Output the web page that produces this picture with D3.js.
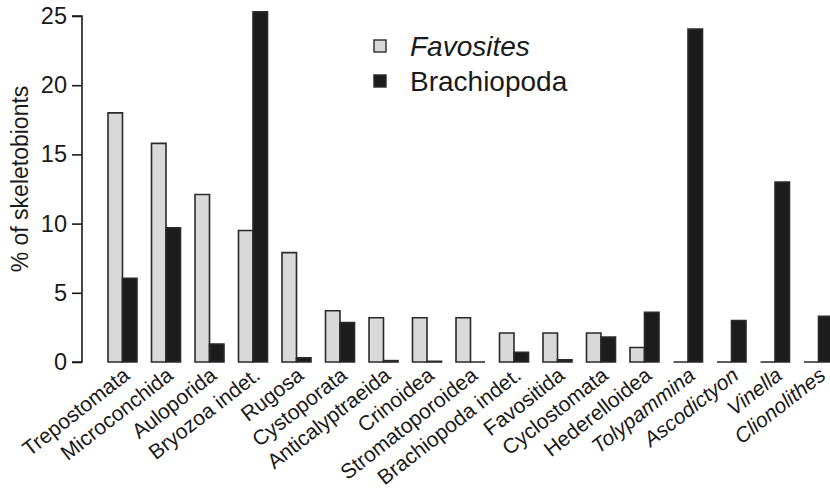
<!DOCTYPE html>
<html>
<head>
<meta charset="utf-8">
<script src="https://cdn.jsdelivr.net/npm/d3@7"></script>
<style>
  html, body { margin: 0; padding: 0; background: #fff; }
  svg { display: block; font-family: "Liberation Sans", Arial, Helvetica, sans-serif; }
</style>
</head>
<body>
<svg id="chart" width="830" height="489"></svg>
<script>
// Skeletobiont taxa on the x axis
const categories = [
  "Trepostomata", "Microconchida", "Auloporida", "Bryozoa indet.", "Rugosa",
  "Cystoporata", "Anticalyptraeida", "Crinoidea", "Stromatoporoidea",
  "Brachiopoda indet.", "Favositida", "Cyclostomata", "Hederelloidea",
  "Tolypammina", "Ascodictyon", "Vinella", "Clionolithes"
];
// Genus names set in italics
const italicCategories = ["Tolypammina", "Ascodictyon", "Vinella", "Clionolithes"];

// Percent of skeletobionts on each host
const favositesValues = [18.0, 15.8, 12.1, 9.5, 7.9, 3.7, 3.2, 3.2, 3.2, 2.1, 2.1, 2.1, 1.05, 0, 0, 0, 0];
const brachiopodaValues = [6.05, 9.7, 1.3, 25.3, 0.3, 2.85, 0.1, 0.05, 0, 0.7, 0.15, 1.8, 3.6, 24.05, 3.0, 13.0, 3.3];

const seriesNames = ["Favosites", "Brachiopoda"];
const seriesFill = ["#d9d9d9", "#1c1c1c"];
const yTicks = [0, 5, 10, 15, 20, 25];

const svg = d3.select("#chart");
const ink = "#1a1a1a";

const y = d3.scaleLinear().domain([0, 25]).range([362, 16]);

// groups of two bars, a one-bar gap before each group
const x = d3.scaleBand()
  .domain(categories)
  .range([108, 108 + 43.5 * (categories.length - 1 / 3)])
  .paddingInner(1 / 3)
  .paddingOuter(0);
const xs = d3.scaleBand().domain(seriesNames).range([0, x.bandwidth()]);

const rows = categories.map((c, i) => ({
  cat: c,
  vals: [favositesValues[i], brachiopodaValues[i]]
}));

// bars as closed paths so that zero-height bars still show as a line
const g = svg.append("g");
rows.forEach(r => {
  r.vals.forEach((v, s) => {
    const x0 = x(r.cat) + xs(seriesNames[s]);
    const x1 = x0 + xs.bandwidth();
    g.append("path")
      .attr("d", `M${x0},${y(0)}V${y(v)}H${x1}V${y(0)}Z`)
      .attr("fill", seriesFill[s])
      .attr("stroke", "#2a2a2a")
      .attr("stroke-width", 1.6)
      .attr("stroke-linejoin", "miter");
  });
});

// y axis
const yAxis = d3.axisLeft(y).tickValues(yTicks).tickSize(10).tickPadding(5);
const ya = svg.append("g").attr("transform", "translate(82,0)").call(yAxis);
ya.select(".domain").attr("stroke", ink).attr("stroke-width", 1.6).attr("d", `M-10,${y(25)}H0V${y(0)}H-10`);
ya.selectAll(".tick line").attr("stroke", ink).attr("stroke-width", 1.6);
ya.selectAll(".tick text")
  .attr("fill", ink)
  .style("font-size", "23.5px")
  .style("font-family", "'Liberation Sans', Arial, sans-serif");

// y axis title
svg.append("text")
  .attr("transform", `translate(28,${(y(0) + y(25)) / 2 - 10}) rotate(-90)`)
  .attr("text-anchor", "middle")
  .attr("fill", ink)
  .style("font-size", "23px")
  .text("% of skeletobionts");

// slanted category labels
rows.forEach(r => {
  const cx = x(r.cat) + x.bandwidth() / 2 + 4;
  const cy = y(0) + 10;
  svg.append("text")
    .attr("transform", `translate(${cx},${cy}) rotate(-38)`)
    .attr("text-anchor", "end")
    .attr("dy", "0.35em")
    .attr("fill", ink)
    .style("font-size", "21px")
    .style("font-style", italicCategories.includes(r.cat) ? "italic" : "normal")
    .text(r.cat);
});

// legend
const legend = svg.append("g");
seriesNames.forEach((name, i) => {
  const ly = 40 + i * 35;
  legend.append("rect")
    .attr("x", 374).attr("y", ly)
    .attr("width", 12).attr("height", 12)
    .attr("fill", seriesFill[i])
    .attr("stroke", "#2a2a2a")
    .attr("stroke-width", 1.4);
  legend.append("text")
    .attr("x", 410).attr("y", ly + 16)
    .attr("fill", ink)
    .style("font-size", "28px")
    .style("font-style", i === 0 ? "italic" : "normal")
    .text(name);
});
</script>
</body>
</html>
